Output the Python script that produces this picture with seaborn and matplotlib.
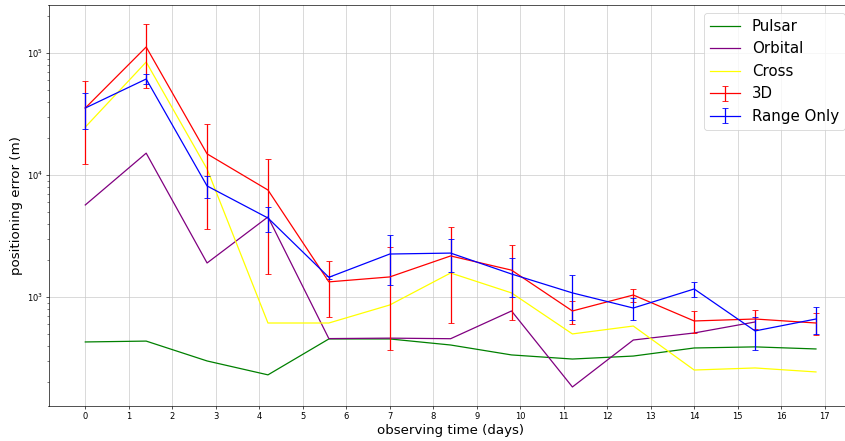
import numpy as np
import pandas as pd
import matplotlib
matplotlib.use("Agg")
import matplotlib.pyplot as plt
import seaborn as sns

days = [0.0, 1.4, 2.8, 4.2, 5.6, 7.0, 8.4, 9.8, 11.2, 12.6, 14.0, 15.4, 16.8]

pulsar = [428, 435, 299, 230, 453, 453, 404, 335, 310, 328, 382, 390, 375]
orbital = [5680, 15100, 1900, 4530, 456, 460, 455, 768, 183, 444, 507, 624]
cross = [24700, 84300, 11200, 612, 612, 860, 1573, 1080, 498, 578, 252, 262, 243]

d3 = [35400, 112000, 14900, 7530, 1330, 1460, 2170, 1660, 768, 1038, 636, 660, 612]
d3_err = [23000, 60000, 11300, 6000, 650, 1090, 1560, 1010, 165, 125, 125, 115, 125]

range_only = [35400, 61200, 8130, 4440, 1450, 2250, 2290, 1543, 1080, 812, 1163, 527, 660]
range_err = [11500, 5800, 1600, 1000, 50, 1000, 700, 540, 430, 160, 155, 160, 165]

DPI = 60
fig = plt.figure(figsize=(845 / DPI, 441 / DPI), dpi=DPI)
ax = fig.add_axes([48.5 / 845, 1 - 405.7 / 441, (852.5 - 48.5) / 845, (405.7 - 5.3) / 441])

sns.lineplot(x=days, y=pulsar, color="green", label="Pulsar", ax=ax)
sns.lineplot(x=days[:len(orbital)], y=orbital, color="purple", label="Orbital", ax=ax)
sns.lineplot(x=days, y=cross, color="yellow", label="Cross", ax=ax)
ax.errorbar(days, d3, yerr=d3_err, color="red", capsize=3.5, label="3D")
ax.errorbar(days, range_only, yerr=range_err, color="blue", capsize=3.5, label="Range Only")

ax.set_yscale("log")
ax.set_xlim(-0.846, 17.64)
ax.set_ylim(128.5, 246000)
ax.set_xticks(np.arange(0, 18, 1))
ax.grid(True, which="major", color="#c8c8c8")
ax.set_axisbelow(True)
ax.set_xlabel("observing time (days)", fontsize=16)
ax.set_ylabel("positioning error (m)", fontsize=16)
ax.legend(loc="upper right", fontsize=18)

fig.savefig("out.png", dpi=DPI)
